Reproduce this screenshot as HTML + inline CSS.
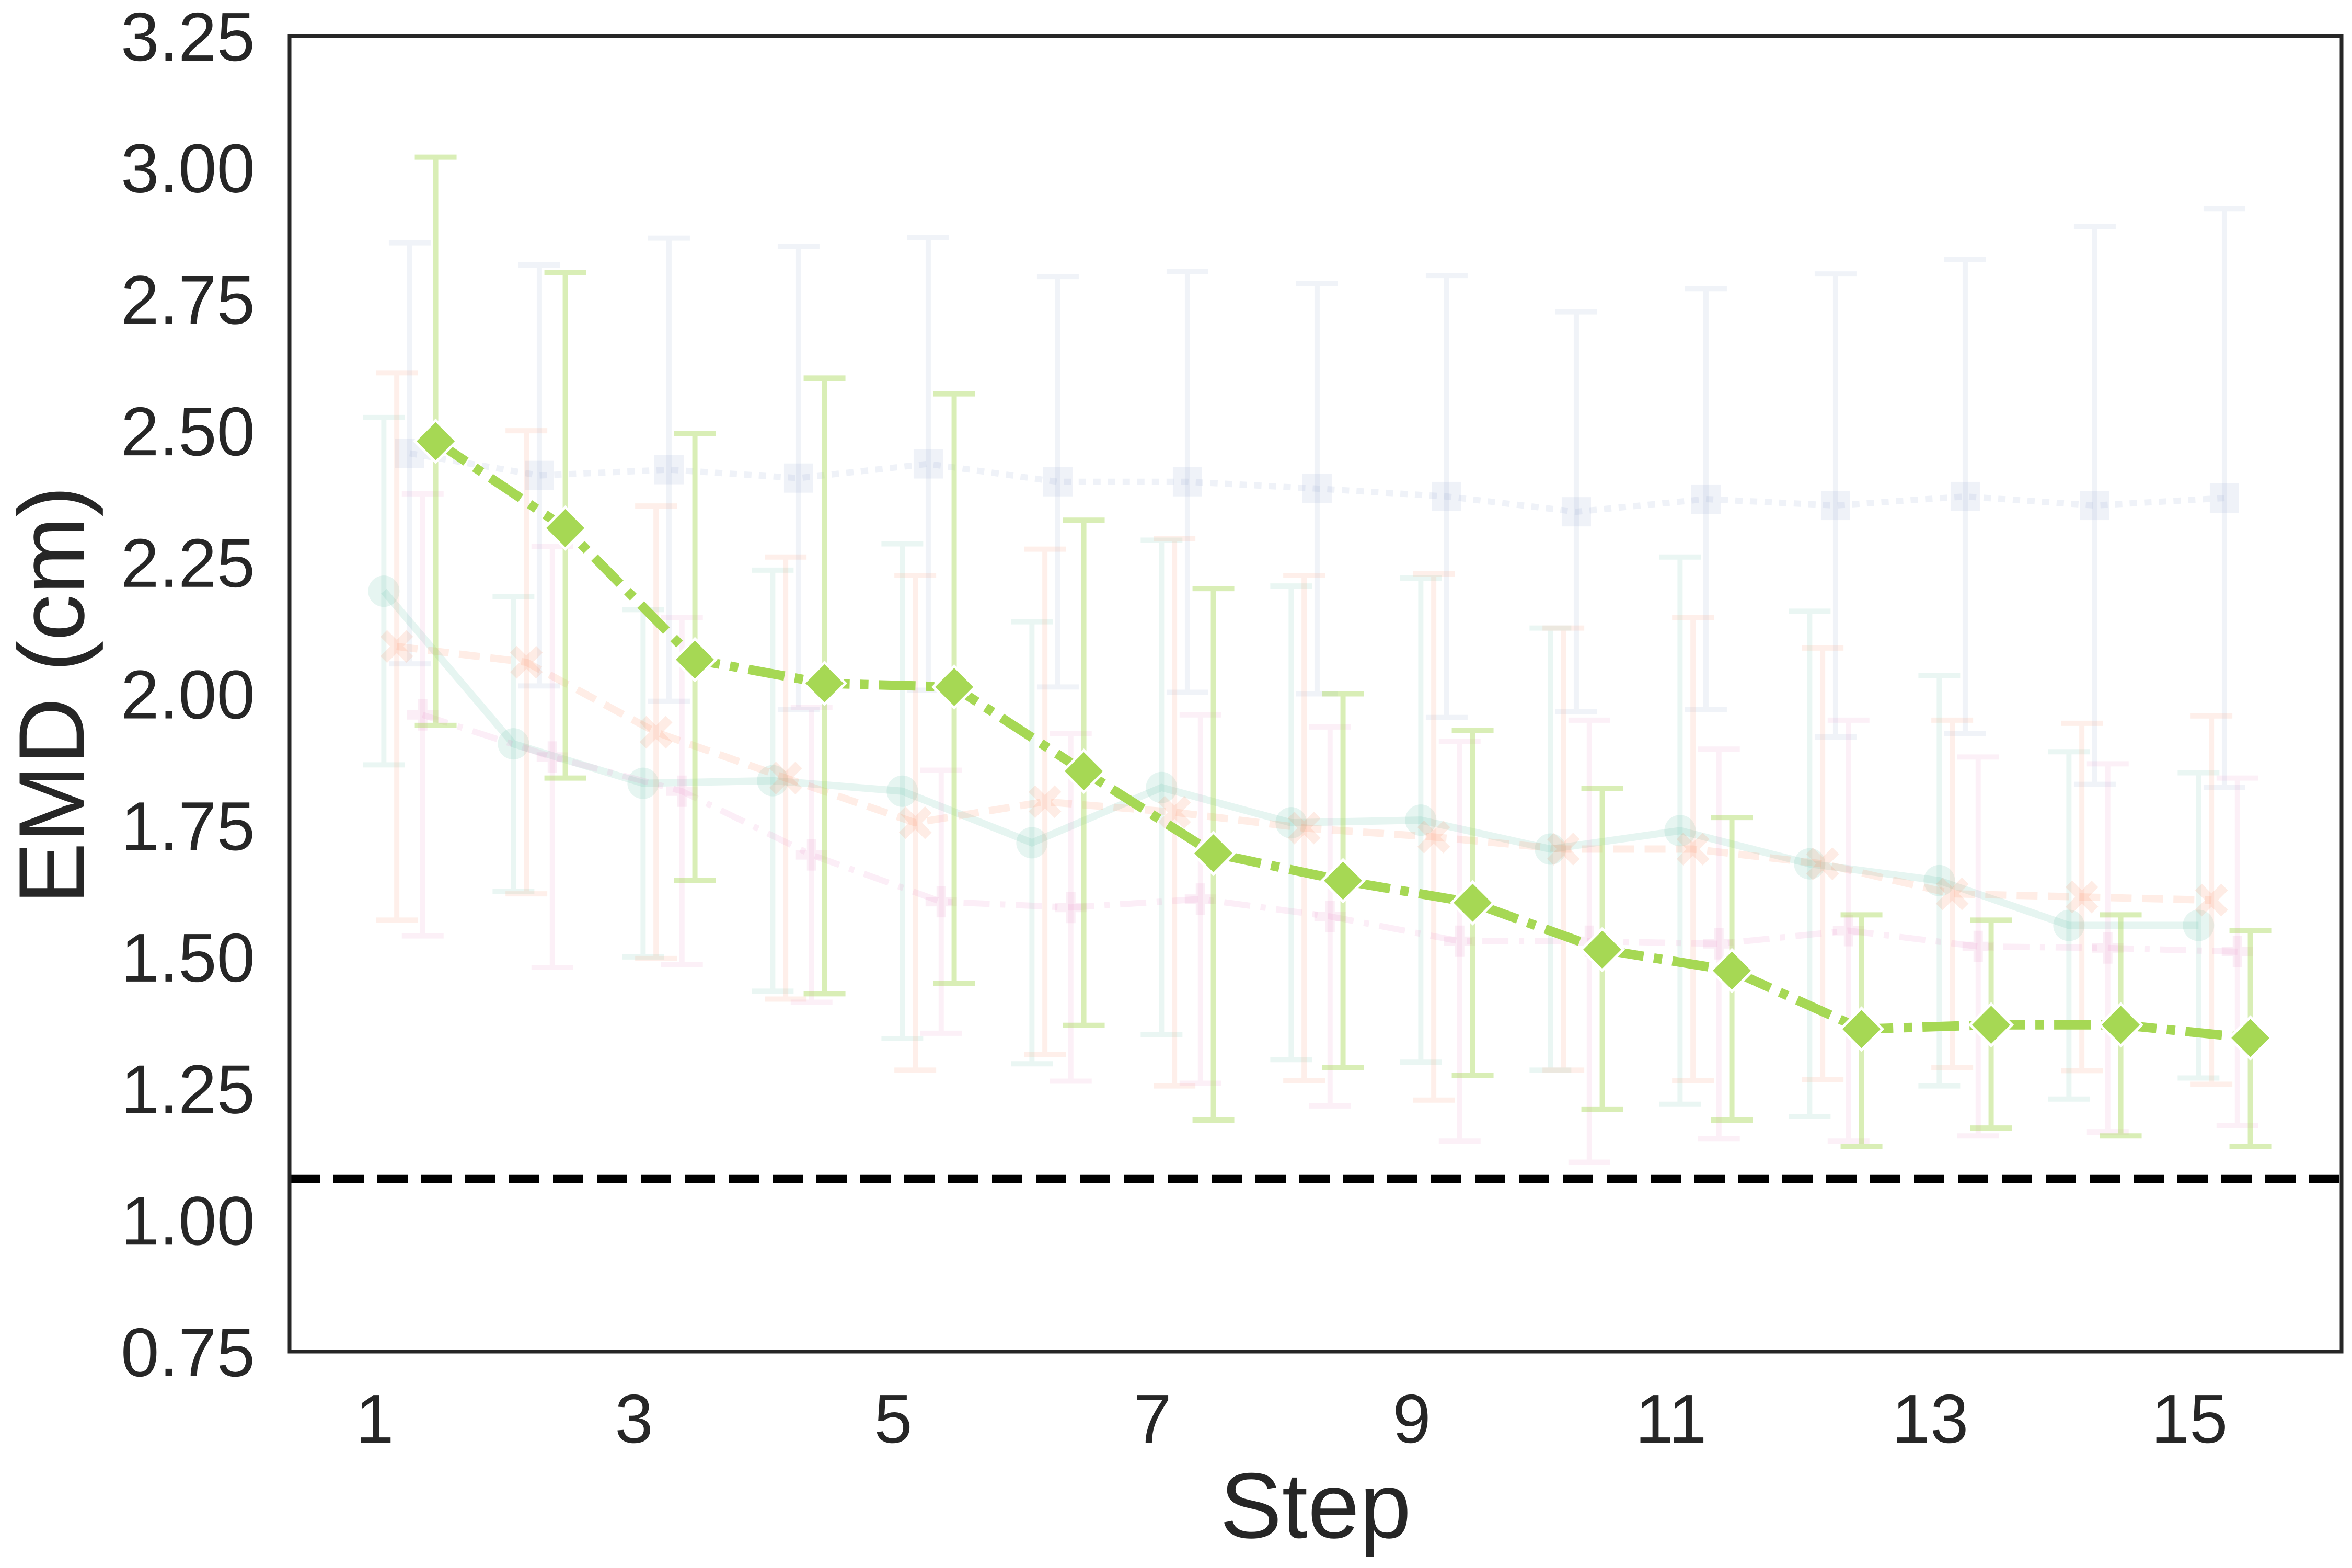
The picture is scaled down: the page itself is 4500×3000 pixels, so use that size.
<!DOCTYPE html>
<html><head><meta charset="utf-8"><style>
html,body{margin:0;padding:0;background:#fff;}
svg{display:block;font-family:"Liberation Sans",Arial,sans-serif;}
</style></head><body>
<svg id="chart" width="4500" height="3000" viewBox="0 0 4500 3000" xmlns="http://www.w3.org/2000/svg">
<rect width="4500" height="3000" fill="#fff"/>
<g id="marks"></g>
<g id="axes"></g>
</svg>
<script>
const steps=[1,2,3,4,5,6,7,8,9,10,11,12,13,14,15];
const yTicks=[0.75,1.00,1.25,1.50,1.75,2.00,2.25,2.50,2.75,3.00,3.25];
const xTicks=[1,3,5,7,9,11,13,15];
const baselineValue=1.078;
const tealMean=[2.195,1.905,1.83,1.835,1.815,1.717,1.822,1.755,1.76,1.705,1.74,1.677,1.645,1.56,1.56];
const tealStd=[0.33,0.28,0.33,0.40,0.47,0.42,0.47,0.45,0.46,0.42,0.52,0.48,0.39,0.33,0.29];
const orangeMean=[2.09,2.06,1.927,1.84,1.755,1.795,1.775,1.745,1.728,1.705,1.705,1.677,1.62,1.614,1.608];
const orangeStd=[0.52,0.44,0.43,0.42,0.47,0.48,0.52,0.48,0.50,0.42,0.44,0.41,0.33,0.33,0.35];
const blueMean=[2.457,2.415,2.426,2.41,2.437,2.403,2.403,2.39,2.375,2.346,2.37,2.358,2.375,2.358,2.372];
const blueStd=[0.40,0.40,0.44,0.44,0.43,0.39,0.40,0.39,0.42,0.38,0.40,0.44,0.45,0.53,0.55];
const pinkMean=[1.96,1.88,1.815,1.694,1.605,1.594,1.61,1.577,1.53,1.53,1.525,1.55,1.52,1.517,1.51];
const pinkStd=[0.42,0.40,0.33,0.28,0.25,0.33,0.35,0.36,0.38,0.42,0.37,0.40,0.36,0.35,0.33];
const greenMean=[2.48,2.315,2.065,2.02,2.013,1.853,1.697,1.645,1.603,1.514,1.474,1.363,1.371,1.371,1.346];
const greenUpper=[3.02,2.80,2.495,2.60,2.57,2.33,2.20,2.00,1.93,1.82,1.765,1.58,1.57,1.58,1.55];
const greenLower=[1.94,1.84,1.645,1.43,1.45,1.37,1.19,1.29,1.275,1.21,1.19,1.14,1.175,1.16,1.14];

const L=554,R=4480,T=69,B=2586;
const xs=s=>717+248*(s-1);
const ys=v=>T+(3.25-v)*(B-T)/2.5;
const NS="http://www.w3.org/2000/svg";
const marks=document.getElementById('marks'),axes=document.getElementById('axes');
function mk(tag,attrs,parent){const e=document.createElementNS(NS,tag);for(const k in attrs)e.setAttribute(k,attrs[k]);parent.appendChild(e);return e;}

function series(name,mean,lo,hi,off,color,alpha,ebAlpha,dash,marker,lw){
  const g=mk('g',{},marks);
  
  
  steps.forEach((s,i)=>{
    const x=xs(s+off);
    const eb=mk('g',{stroke:color,'stroke-width':10,opacity:ebAlpha},g);
    
    
    mk('line',{x1:x,x2:x,y1:ys(lo[i]),y2:ys(hi[i])},eb);
    mk('line',{x1:x-40,x2:x+40,y1:ys(lo[i]),y2:ys(lo[i])},eb);
    mk('line',{x1:x-40,x2:x+40,y1:ys(hi[i]),y2:ys(hi[i])},eb);
  });
  const pts=steps.map((s,i)=>xs(s+off)+','+ys(mean[i])).join(' ');
  const ln=mk('polyline',{points:pts,fill:'none',stroke:color,'stroke-width':lw,'stroke-dasharray':dash,opacity:alpha},g);
  
  
  steps.forEach((s,i)=>{
    const x=xs(s+off),y=ys(mean[i]);let m;
    if(marker==='circle')m=mk('circle',{cx:x,cy:y,r:30,fill:color,opacity:alpha},g);
    else if(marker==='square')m=mk('rect',{x:x-28,y:y-28,width:56,height:56,fill:color,opacity:alpha},g);
    else if(marker==='x')m=mk('path',{d:`M${x-25},${y-25}L${x+25},${y+25}M${x+25},${y-25}L${x-25},${y+25}`,stroke:color,'stroke-width':18,opacity:alpha},g);
    else if(marker==='plus')m=mk('path',{d:`M${x-30},${y}L${x+30},${y}M${x},${y-30}L${x},${y+30}`,stroke:color,'stroke-width':18,opacity:alpha},g);
    else m=mk('path',{d:`M${x},${y-40}L${x+40},${y}L${x},${y+40}L${x-40},${y}Z`,fill:color,stroke:'#fff','stroke-width':5},g);
    
    
  });
}
const lo=(m,s)=>m.map((v,i)=>v-s[i]),hi=(m,s)=>m.map((v,i)=>v+s[i]);
series('blue',blueMean,lo(blueMean,blueStd),hi(blueMean,blueStd),0.27,'#8da0cb',0.14,0.12,'14 14','square',12);
series('teal',tealMean,lo(tealMean,tealStd),hi(tealMean,tealStd),0.07,'#66c2a5',0.16,0.13,'none','circle',14);
series('orange',orangeMean,lo(orangeMean,orangeStd),hi(orangeMean,orangeStd),0.17,'#fc8d62',0.16,0.13,'40 20','x',14);
series('pink',pinkMean,lo(pinkMean,pinkStd),hi(pinkMean,pinkStd),0.37,'#e78ac3',0.14,0.12,'50 20 10 20','plus',12);
series('green',greenMean,greenLower,greenUpper,0.47,'#a6d854',1,0.42,'70 20 16 20','diamond',18);

const bl=mk('line',{x1:L,x2:R,y1:ys(baselineValue),y2:ys(baselineValue),stroke:'#000','stroke-width':16,'stroke-dasharray':'58 26'},axes);


const fr=mk('rect',{x:L,y:T,width:R-L,height:B-T,fill:'none',stroke:'#262626','stroke-width':7},axes);


yTicks.forEach(v=>{
  const t=mk('text',{x:488,y:ys(v)+47,'text-anchor':'end','font-size':132,fill:'#262626'},axes);
  t.textContent=v.toFixed(2);
  
  
});
xTicks.forEach(v=>{
  const t=mk('text',{x:xs(v),y:2760,'text-anchor':'middle','font-size':132,fill:'#262626'},axes);
  t.textContent=v;
  
  
});
const xt=mk('text',{x:2517,y:2942,'text-anchor':'middle','font-size':178,fill:'#262626'},axes);
xt.textContent='Step';


const yt=mk('text',{x:0,y:0,'text-anchor':'middle','font-size':178,fill:'#262626',transform:'translate(160,1330) rotate(-90)'},axes);
yt.textContent='EMD (cm)';


</script>
</body></html>
